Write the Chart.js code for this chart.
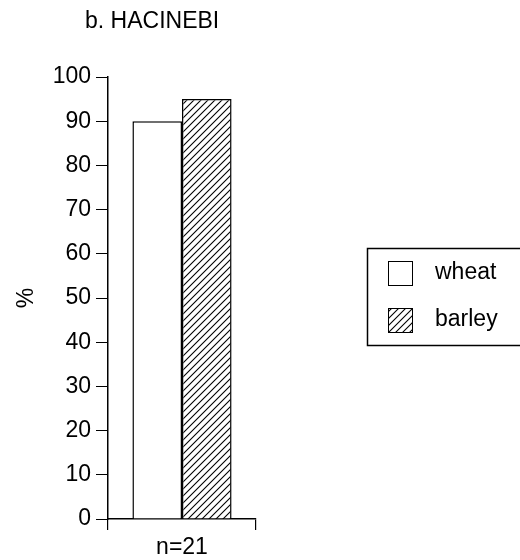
<!DOCTYPE html>
<html lang="en">
  <head>
    <meta charset="utf-8" />
    <script src="https://cdn.jsdelivr.net/npm/chart.js"></script>
    <title>HACINEBI</title>
    <style>
      body {
        margin: 0;
        padding: 0;
        background: #fff;
      }
      #wrap {
        position: relative;
        width: 520px;
        height: 560px;
      }
    </style>
  </head>
  <body>
    <div id="wrap">
      <canvas id="myChart" width="520" height="560"></canvas>
    </div>

    <script>
      // chart data
      var chartTitle = "b. HACINEBI";
      var categories = ["n=21"];
      var seriesNames = ["wheat", "barley"];
      var wheatValues = [90];
      var barleyValues = [95];
      var yMin = 0, yMax = 100, yStep = 10;
      var yTitle = "%";

      var fontFamily = "'Liberation Sans', Arial, Helvetica, sans-serif";
      Chart.defaults.font.family = fontFamily;
      Chart.defaults.color = "#000";

      // diagonal hatch for barley
      function makeHatch() {
        var c = document.createElement("canvas");
        c.width = 7;
        c.height = 7;
        var g = c.getContext("2d");
        g.fillStyle = "#fff";
        g.fillRect(0, 0, 7, 7);
        g.strokeStyle = "#000";
        g.lineWidth = 1.1;
        g.beginPath();
        g.moveTo(-1, 8); g.lineTo(8, -1);
        g.moveTo(-1, 1); g.lineTo(1, -1);
        g.moveTo(6, 8); g.lineTo(8, 6);
        g.stroke();
        return g.createPattern(c, "repeat");
      }
      var hatch = makeHatch();

      // title + boxed legend, drawn on the canvas
      var extras = {
        id: "extras",
        afterDraw: function (chart) {
          var ctx = chart.ctx;
          ctx.save();
          ctx.fillStyle = "#000";
          ctx.font = "23px " + fontFamily;
          ctx.textBaseline = "middle";
          ctx.textAlign = "left";
          ctx.fillText(chartTitle, 85, 22);

          ctx.strokeStyle = "#000";
          ctx.lineWidth = 1.5;
          ctx.strokeRect(367.5, 248.5, 170, 97);

          var rows = [273, 320];
          ctx.font = "23px " + fontFamily;
          chart.data.datasets.forEach(function (ds, i) {
            var y = rows[i];
            ctx.fillStyle = ds.backgroundColor;
            ctx.fillRect(388, y - 12, 25, 25);
            ctx.lineWidth = 1;
            ctx.strokeRect(388.5, y - 11.5, 24, 24);
            ctx.fillStyle = "#000";
            ctx.fillText(ds.label, 435, y);
          });
          ctx.restore();
        }
      };

      var ctx = document.getElementById("myChart").getContext("2d");
      var myChart = new Chart(ctx, {
        type: "bar",
        data: {
          labels: categories,
          datasets: [
            {
              label: seriesNames[0],
              data: wheatValues,
              backgroundColor: "#fff",
              borderColor: "#000",
              borderWidth: 1.5
            },
            {
              label: seriesNames[1],
              data: barleyValues,
              backgroundColor: hatch,
              borderColor: "#000",
              borderWidth: 1.5
            }
          ]
        },
        options: {
          responsive: false,
          animation: false,
          categoryPercentage: 0.67,
          barPercentage: 1.0,
          layout: {
            padding: { left: 10, right: 264, top: 77, bottom: 0 }
          },
          plugins: {
            legend: { display: false },
            title: { display: false },
            tooltip: { enabled: false }
          },
          scales: {
            x: {
              grid: {
                offset: true,
                drawOnChartArea: false,
                tickLength: 11,
                color: "#000",
                lineWidth: 1.2
              },
              border: { display: true, color: "#000", width: 1.5 },
              ticks: { font: { size: 23 }, color: "#000", padding: 4 },
              afterFit: function (scale) { scale.height = 41; }
            },
            y: {
              min: yMin,
              max: yMax,
              ticks: { stepSize: yStep, font: { size: 23 }, color: "#000", padding: 5 },
              grid: {
                drawOnChartArea: false,
                tickLength: 12,
                color: "#000",
                lineWidth: 1
              },
              border: { display: true, color: "#000", width: 1.5 },
              title: {
                display: true,
                text: yTitle,
                font: { size: 23 },
                color: "#000",
                padding: { top: 3, bottom: 0 }
              },
              afterFit: function (scale) { scale.width = 98; }
            }
          }
        },
        plugins: [extras]
      });
    </script>
  </body>
</html>
